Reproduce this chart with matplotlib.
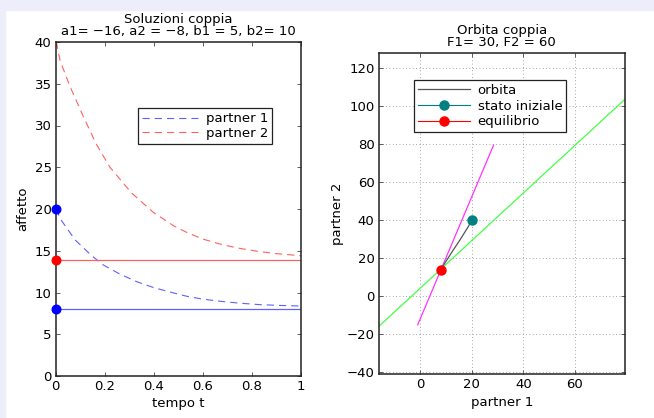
import matplotlib
matplotlib.use("Agg")
import matplotlib.pyplot as plt
from matplotlib.patches import Rectangle

plt.rcParams['font.family'] = ['DejaVu Sans']
plt.rcParams['font.size'] = 9.5

# --- data ---
# left panel: solutions over time
t_p1 = [0.0, 0.024, 0.079, 0.147, 0.194, 0.262, 0.33, 0.398, 0.48, 0.534, 0.60, 0.67, 0.75, 0.83, 0.914, 1.0]
v_p1 = [20.0, 18.6, 16.3, 14.4, 13.3, 12.2, 11.3, 10.6, 9.95, 9.55, 9.2, 8.95, 8.72, 8.55, 8.45, 8.38]
t_p2 = [0.0, 0.004, 0.0175, 0.058, 0.113, 0.165, 0.221, 0.31, 0.398, 0.48, 0.534, 0.60, 0.67, 0.738, 0.819, 0.90, 1.0]
v_p2 = [40.0, 39.8, 37.8, 34.7, 31.05, 27.8, 25.0, 21.9, 19.6, 18.0, 17.2, 16.4, 15.8, 15.35, 14.95, 14.65, 14.4]
eq_p1 = 8.08
eq_p2 = 13.85
start_p1 = 20.0

# right panel: phase plane
orbit_x = [20.0, 18.7, 15.5, 12.9, 10.4, 8.4, 8.08]
orbit_y = [40.0, 36.5, 29.5, 24.2, 18.9, 14.6, 13.85]
null1_x = [-16.0, 79.4]
null1_y = [-16.2, 103.7]
null2_x = [-0.9, 28.5]
null2_y = [-15.3, 79.5]
init_state = (20.0, 40.0)
equil = (8.08, 13.85)

fig = plt.figure(figsize=(6.54, 4.18), dpi=100)
fig.patch.set_facecolor('white')
# lavender border of the screenshot
fig.patches.append(Rectangle((0, 1 - 10 / 418), 1, 10 / 418, transform=fig.transFigure,
                             color='#eeeefa', zorder=0))
fig.patches.append(Rectangle((0, 0), 5 / 654, 1, transform=fig.transFigure,
                             color='#eeeefa', zorder=0))

blue_l = '#6060ff'
red_l = '#ff6060'
frame = '#222222'


def style_axes(ax):
    for s in ax.spines.values():
        s.set_color(frame)
        s.set_linewidth(1.1)
    ax.tick_params(direction='in', top=True, right=True, length=3, width=0.6,
                   color='#444444', labelsize=9.5, pad=3)


# ---- left panel ----
ax1 = fig.add_axes([55.7 / 654, 1 - 376 / 418, (301 - 55.7) / 654, (376 - 42) / 418])
ax1.plot(t_p1, v_p1, color=blue_l, lw=0.8, ls=(0, (6.5, 4.5)), label='partner 1')
ax1.plot(t_p2, v_p2, color=red_l, lw=0.8, ls=(0, (6.5, 4.5)), label='partner 2')
ax1.plot([0, 1], [eq_p2, eq_p2], color=red_l, lw=0.9)
ax1.plot([0, 1], [eq_p1, eq_p1], color=blue_l, lw=0.9)
ax1.plot([0], [start_p1], 'o', color='#0000ff', ms=6.2, clip_on=False, zorder=5)
ax1.plot([0], [eq_p2], 'o', color='#ff0000', ms=6.2, clip_on=False, zorder=5)
ax1.plot([0], [eq_p1], 'o', color='#0000ff', ms=6.2, clip_on=False, zorder=5)
ax1.set_xlim(0, 1)
ax1.set_ylim(0, 40)
ax1.set_xticks([0, 0.2, 0.4, 0.6, 0.8, 1])
ax1.set_xticklabels(['0', '0.2', '0.4', '0.6', '0.8', '1'])
ax1.set_yticks(range(0, 41, 5))
style_axes(ax1)
ax1.set_xlabel('tempo t', labelpad=3)
ax1.set_ylabel('affetto', labelpad=4)
ax1.set_title('Soluzioni coppia\na1= \u221216, a2 = \u22128, b1 = 5, b2= 10',
              fontsize=9.5, linespacing=0.9, pad=5)
leg1 = ax1.legend(loc='upper left', bbox_to_anchor=(138.3 / 654, 1 - 108.3 / 418),
                  bbox_transform=fig.transFigure, fancybox=False, framealpha=1,
                  edgecolor=frame, handlelength=4.2, handletextpad=0.6,
                  borderpad=0.3, labelspacing=0.1, borderaxespad=0)
leg1.get_frame().set_linewidth(0.9)

# ---- right panel ----
ax2 = fig.add_axes([378.7 / 654, 1 - 374.3 / 418, (625 - 378.7) / 654, (374.3 - 53.3) / 418])
ax2.grid(True, ls=(0, (1, 3)), color='#888888', lw=0.6)
ax2.plot(null1_x, null1_y, color='#44ff44', lw=0.9)
ax2.plot(null2_x, null2_y, color='#ff33ff', lw=0.9)
ax2.plot(orbit_x, orbit_y, color='#555555', lw=0.9, label='orbita')
ax2.plot([init_state[0]], [init_state[1]], 'o', color='#008080', ms=6.5,
         ls='-', lw=0.8, label='stato iniziale', zorder=5)
ax2.plot([equil[0]], [equil[1]], 'o', color='#ff0000', ms=6.5,
         ls='-', lw=0.8, label='equilibrio', zorder=5)
ax2.set_xlim(-16, 79.4)
ax2.set_ylim(-41.4, 127.9)
ax2.set_xticks([0, 20, 40, 60])
ax2.set_yticks(range(-40, 121, 20))
ax2.set_axisbelow(True)
style_axes(ax2)
ax2.set_xlabel('partner 1', labelpad=3)
ax2.set_ylabel('partner 2', labelpad=2)
ax2.set_title('Orbita coppia\nF1= 30, F2 = 60', fontsize=9.5, linespacing=0.9, pad=5)
leg2 = ax2.legend(loc='upper left', bbox_to_anchor=(414.3 / 654, 1 - 80 / 418),
                  bbox_transform=fig.transFigure, fancybox=False, framealpha=1,
                  edgecolor=frame, handlelength=3.9, handletextpad=0.6,
                  borderpad=0.3, labelspacing=0.2, borderaxespad=0)
leg2.get_frame().set_linewidth(0.9)

fig.savefig('out.png', dpi=100)
